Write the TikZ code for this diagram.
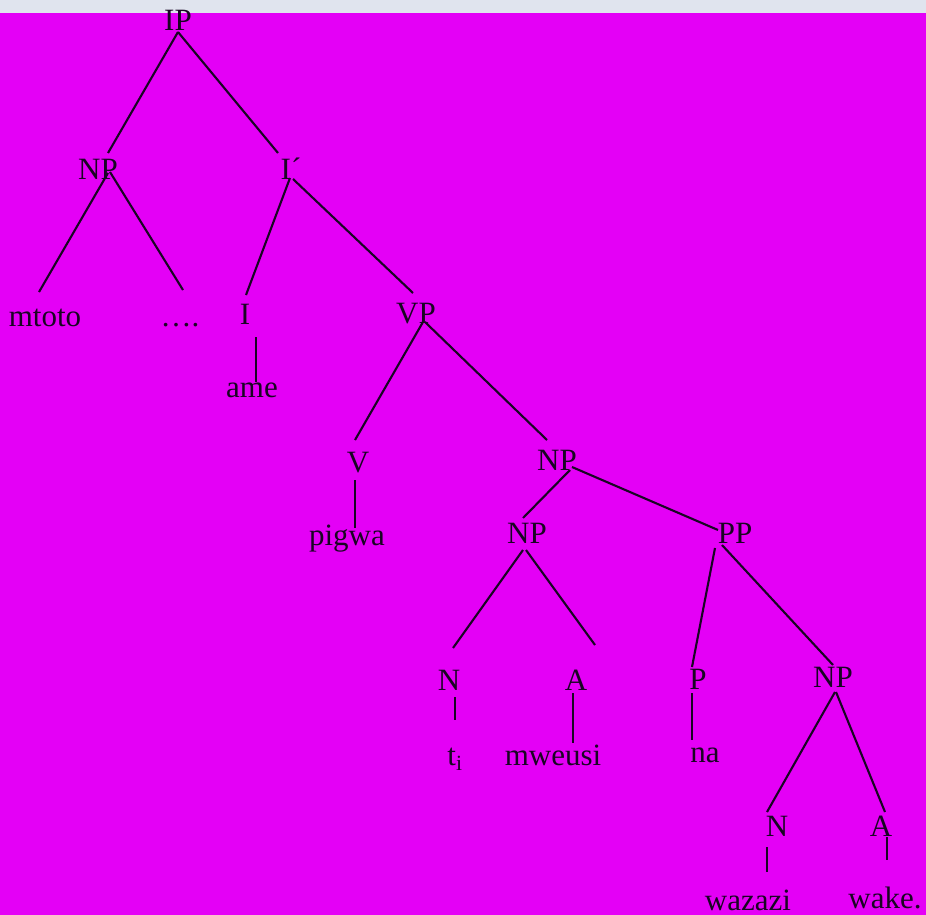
\documentclass[tikz,border=0pt]{standalone}
\usepackage{fontspec}
\setmainfont{Liberation Serif}
\definecolor{paper}{RGB}{228,0,246}
\definecolor{strip}{RGB}{224,228,238}
\definecolor{ink}{RGB}{25,5,35}
\begin{document}
\begin{tikzpicture}[x=1pt,y=-1pt,
  lbl/.style={anchor=base,inner sep=0pt,text=ink,font=\fontsize{31}{31}\selectfont},
  br/.style={draw=ink,line width=2.1pt}]
\useasboundingbox (0,0) rectangle (926,915);
\fill[paper] (0,0) rectangle (926,915);
\fill[strip] (0,0) rectangle (926,13);
% labels
\node[lbl] (ip) at (178,31) {IP};
\node[lbl] (np) at (98,179) {NP};
\node[lbl] (ibar) at (291,179) {I´};
\node[lbl] (mtoto) at (45,326) {mtoto};
\node[lbl] (dots) at (180,326) {….};
\node[lbl] (i) at (245,324) {I};
\node[lbl] (vp) at (416,323) {VP};
\node[lbl] (ame) at (252,397) {ame};
\node[lbl] (v) at (358,472) {V};
\node[lbl] (np2) at (557,470) {NP};
\node[lbl] (pigwa) at (347,545) {pigwa};
\node[lbl] (np3) at (527,543) {NP};
\node[lbl] (pp) at (735,543) {PP};
\node[lbl] (n1) at (449,690) {N};
\node[lbl] (a1) at (576,690) {A};
\node[lbl] (p) at (698,689) {P};
\node[lbl] (np4) at (833,687) {NP};
\node[lbl] (ti) at (455,765) {t\textsubscript{i}};
\node[lbl] (mweusi) at (553,765) {mweusi};
\node[lbl] (na) at (705,762) {na};
\node[lbl] (n2) at (777,836) {N};
\node[lbl] (a2) at (881,836) {A};
\node[lbl] (wazazi) at (748,910) {wazazi};
\node[lbl] (wake) at (885,908) {wake.};
% branches
\draw[br] ([shift={(0,1)}]ip.base) -- ([shift={(10,-26)}]np.base);
\draw[br] ([shift={(0,1)}]ip.base) -- ([shift={(-13,-26)}]ibar.base);
\draw[br] ([shift={(10,-6)}]np.base) -- ([shift={(-6,-34)}]mtoto.base);
\draw[br] ([shift={(12,-7)}]np.base) -- ([shift={(3,-36)}]dots.base);
\draw[br] ([shift={(-1,-1)}]ibar.base) -- ([shift={(1,-29)}]i.base);
\draw[br] ([shift={(2,0)}]ibar.base) -- ([shift={(-3,-30)}]vp.base);
\draw[br] ([shift={(11,13)}]i.base) -- ([shift={(4,-15)}]ame.base);
\draw[br] ([shift={(7,-1)}]vp.base) -- ([shift={(-3,-32)}]v.base);
\draw[br] ([shift={(9,-1)}]vp.base) -- ([shift={(-10,-30)}]np2.base);
\draw[br] ([shift={(-3,8)}]v.base) -- ([shift={(8,-17)}]pigwa.base);
\draw[br] ([shift={(13,0)}]np2.base) -- ([shift={(-4,-25)}]np3.base);
\draw[br] ([shift={(15,-3)}]np2.base) -- ([shift={(-17,-13)}]pp.base);
\draw[br] ([shift={(-4,7)}]np3.base) -- ([shift={(4,-42)}]n1.base);
\draw[br] ([shift={(-1,7)}]np3.base) -- ([shift={(19,-45)}]a1.base);
\draw[br] ([shift={(-20,5)}]pp.base) -- ([shift={(-6,-22)}]p.base);
\draw[br] ([shift={(-13,2)}]pp.base) -- ([shift={(0,-22)}]np4.base);
\draw[br] ([shift={(6,7)}]n1.base) -- ([shift={(0,-45)}]ti.base);
\draw[br] ([shift={(-3,3)}]a1.base) -- ([shift={(20,-22)}]mweusi.base);
\draw[br] ([shift={(-6,4)}]p.base) -- ([shift={(-13,-22)}]na.base);
\draw[br] ([shift={(2,5)}]np4.base) -- ([shift={(-10,-24)}]n2.base);
\draw[br] ([shift={(3,5)}]np4.base) -- ([shift={(4,-24)}]a2.base);
\draw[br] ([shift={(-10,11)}]n2.base) -- ([shift={(19,-38)}]wazazi.base);
\draw[br] ([shift={(6,1)}]a2.base) -- ([shift={(2,-48)}]wake.base);
\end{tikzpicture}
\end{document}
